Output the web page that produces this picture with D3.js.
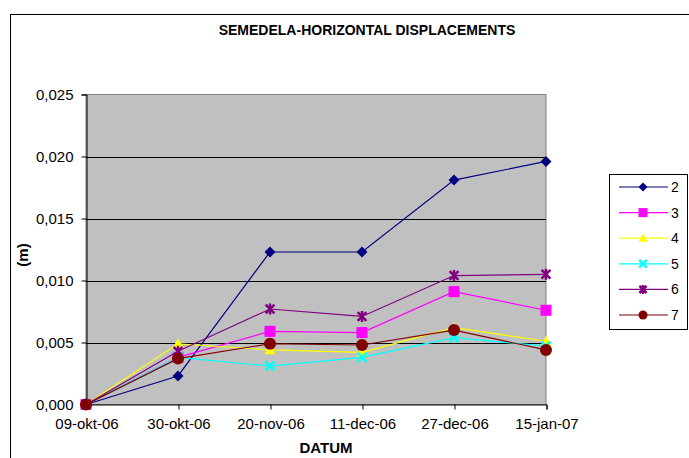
<!DOCTYPE html>
<html>
<head>
<meta charset="utf-8">
<script src="https://cdn.jsdelivr.net/npm/d3@7"></script>
<style>
  html, body { margin: 0; padding: 0; background: #fff; }
  svg { display: block; font-family: "Liberation Sans", Arial, sans-serif; }
</style>
</head>
<body>
<svg id="chart" width="689" height="458"></svg>
<script>
// Survey dates (categories on the x axis)
const dates = ["09-okt-06", "30-okt-06", "20-nov-06", "11-dec-06", "27-dec-06", "15-jan-07"];

// Horizontal displacement per survey point, metres
const point2 = [0, 0.0023, 0.0123, 0.0123, 0.0181, 0.0196];
const point3 = [0, 0.0038, 0.0059, 0.0058, 0.0091, 0.0076];
const point4 = [0, 0.0049, 0.0044, 0.0042, 0.0062, 0.0051];
const point5 = [0, 0.0038, 0.0031, 0.0038, 0.0054, 0.0047];
const point6 = [0, 0.0043, 0.0077, 0.0071, 0.0104, 0.0105];
const point7 = [0, 0.0037, 0.0049, 0.0048, 0.0060, 0.0044];

const seriesNames = ["2", "3", "4", "5", "6", "7"];
const yTicks = [0, 0.005, 0.010, 0.015, 0.020, 0.025];

const series = [
  { name: seriesNames[0], values: point2, color: "#000080", marker: "diamond" },
  { name: seriesNames[1], values: point3, color: "#FF00FF", marker: "square" },
  { name: seriesNames[2], values: point4, color: "#FFFF00", marker: "triangle" },
  { name: seriesNames[3], values: point5, color: "#00FFFF", marker: "x" },
  { name: seriesNames[4], values: point6, color: "#800080", marker: "star" },
  { name: seriesNames[5], values: point7, color: "#800000", marker: "circle" }
];

const FONT = "'Liberation Sans', Arial, sans-serif";
const svg = d3.select("#chart");

// Outer chart frame
svg.append("rect")
  .attr("x", 10.5).attr("y", 14.5)
  .attr("width", 700).attr("height", 470)
  .attr("fill", "#fff").attr("stroke", "#000").attr("stroke-width", 1);

const plot = { left: 86, right: 546, top: 94.5, bottom: 404.5 };

const x = d3.scalePoint().domain(dates).range([plot.left, plot.right]);
const y = d3.scaleLinear().domain([0, 0.025]).range([plot.bottom, plot.top]);

// Plot area background
svg.append("rect")
  .attr("x", plot.left).attr("y", plot.top)
  .attr("width", plot.right - plot.left).attr("height", plot.bottom - plot.top)
  .attr("fill", "#C0C0C0").attr("stroke", "#808080").attr("stroke-width", 1);

// Horizontal gridlines
svg.append("g")
  .selectAll("line")
  .data(yTicks.filter(t => t > 0 && t < 0.025))
  .join("line")
  .attr("x1", plot.left).attr("x2", plot.right)
  .attr("y1", d => Math.round(y(d)) + 0.5).attr("y2", d => Math.round(y(d)) + 0.5)
  .attr("stroke", "#000").attr("stroke-width", 1);

// Y axis
const fmt = d => d3.format(".3f")(d).replace(".", ",");
const yAxis = svg.append("g")
  .attr("transform", `translate(${plot.left + 0.5},0)`)
  .call(d3.axisLeft(y).tickValues(yTicks).tickFormat(fmt).tickSize(5).tickPadding(8));
yAxis.select(".domain").attr("stroke", "#000");
yAxis.selectAll(".tick line").attr("stroke", "#000");
yAxis.selectAll("text").attr("font-size", 15).attr("fill", "#000").attr("font-family", FONT);

// X axis
const xAxis = svg.append("g")
  .attr("transform", `translate(0.5,${plot.bottom})`)
  .call(d3.axisBottom(x).tickSize(5).tickPadding(9));
xAxis.select(".domain").attr("stroke", "#000");
xAxis.selectAll(".tick line").attr("stroke", "#000");
xAxis.selectAll("text").attr("font-size", 15).attr("fill", "#000").attr("font-family", FONT);

// Marker shapes
function drawMarker(g, type, color, s) {
  const h = s / 2;
  if (type === "diamond") {
    g.append("path").attr("d", `M0,${-h}L${h},0L0,${h}L${-h},0Z`).attr("fill", color);
  } else if (type === "square") {
    g.append("rect").attr("x", -h).attr("y", -h).attr("width", s).attr("height", s).attr("fill", color);
  } else if (type === "triangle") {
    g.append("path").attr("d", `M0,${-h}L${h},${h * 0.8}L${-h},${h * 0.8}Z`).attr("fill", color);
  } else if (type === "x") {
    const a = h * 0.85;
    g.append("path").attr("d", `M${-a},${-a}L${a},${a}M${-a},${a}L${a},${-a}`)
      .attr("stroke", color).attr("stroke-width", 2.5).attr("fill", "none");
  } else if (type === "star") {
    const a = h * 0.8;
    g.append("path").attr("d", `M${-a},${-a}L${a},${a}M${-a},${a}L${a},${-a}M0,${-h}L0,${h}`)
      .attr("stroke", color).attr("stroke-width", 2.5).attr("fill", "none");
  } else if (type === "circle") {
    g.append("circle").attr("r", h).attr("fill", color);
  }
}

const line = d3.line()
  .x((d, i) => x(dates[i]))
  .y(d => y(d));

series.forEach(s => {
  const g = svg.append("g");
  g.append("path")
    .datum(s.values)
    .attr("d", line)
    .attr("fill", "none")
    .attr("stroke", s.color)
    .attr("stroke-width", 1.2);
  s.values.forEach((v, i) => {
    const m = g.append("g").attr("transform", `translate(${x(dates[i])},${y(v)})`);
    drawMarker(m, s.marker, s.color, s.marker === "circle" ? 12 : 11);
  });
});

// Title and axis titles
svg.append("text")
  .attr("x", 367).attr("y", 35)
  .attr("text-anchor", "middle")
  .attr("font-size", 14).attr("font-weight", "bold")
  .text("SEMEDELA-HORIZONTAL DISPLACEMENTS");

svg.append("text")
  .attr("x", 326).attr("y", 453)
  .attr("text-anchor", "middle")
  .attr("font-size", 15).attr("font-weight", "bold")
  .text("DATUM");

svg.append("text")
  .attr("transform", "translate(28,255) rotate(-90)")
  .attr("text-anchor", "middle")
  .attr("font-size", 15).attr("font-weight", "bold")
  .text("(m)");

// Legend
const legend = svg.append("g");
legend.append("rect")
  .attr("x", 609.5).attr("y", 174.5)
  .attr("width", 78).attr("height", 155)
  .attr("fill", "#fff").attr("stroke", "#000").attr("stroke-width", 1);

series.forEach((s, i) => {
  const cy = 187 + i * 25.6;
  const item = legend.append("g").attr("transform", `translate(0,${cy})`);
  item.append("line")
    .attr("x1", 619).attr("x2", 668)
    .attr("y1", 0).attr("y2", 0)
    .attr("stroke", s.color).attr("stroke-width", 1.2);
  const m = item.append("g").attr("transform", "translate(643,0)");
  drawMarker(m, s.marker, s.color, 9);
  item.append("text")
    .attr("x", 671).attr("y", 0)
    .attr("dy", "0.35em")
    .attr("font-size", 14)
    .text(s.name);
});
</script>
</body>
</html>
